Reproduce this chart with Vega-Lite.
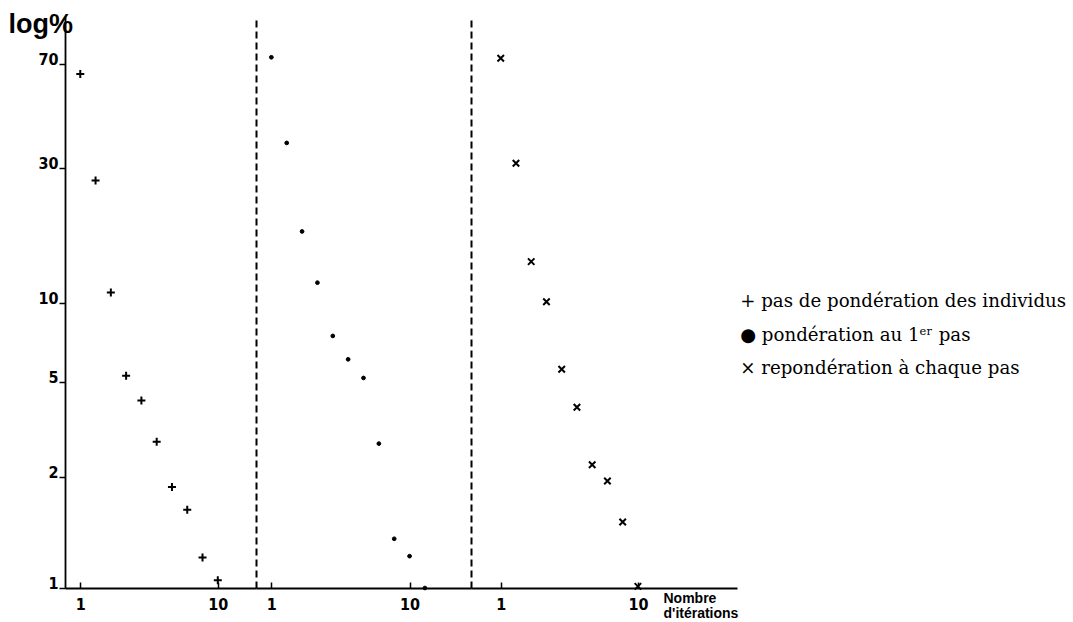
{
  "$schema": "https://vega.github.io/schema/vega-lite/v6.json",
  "padding": {"left": 8, "top": 10, "right": 0, "bottom": 0},
  "background": "white",
  "bounds": "flush",
  "spacing": 0,
  "config": {
    "view": {"stroke": null},
    "axis": {"grid": false, "domainColor": "black", "tickColor": "black", "labelColor": "black", "titleColor": "black"}
  },
  "data": {"values": [
    {"s": "pas de pondération des individus", "it": 1, "pct": 64.5},
    {"s": "pas de pondération des individus", "it": 2, "pct": 27.1},
    {"s": "pas de pondération des individus", "it": 3, "pct": 10.9},
    {"s": "pas de pondération des individus", "it": 4, "pct": 5.28},
    {"s": "pas de pondération des individus", "it": 5, "pct": 4.18},
    {"s": "pas de pondération des individus", "it": 6, "pct": 2.81},
    {"s": "pas de pondération des individus", "it": 7, "pct": 1.88},
    {"s": "pas de pondération des individus", "it": 8, "pct": 1.63},
    {"s": "pas de pondération des individus", "it": 9, "pct": 1.21},
    {"s": "pas de pondération des individus", "it": 10, "pct": 1.05},
    {"s": "pondération au 1ᵉʳ pas", "it": 1, "pct": 73.9},
    {"s": "pondération au 1ᵉʳ pas", "it": 2, "pct": 36.8},
    {"s": "pondération au 1ᵉʳ pas", "it": 3, "pct": 17.9},
    {"s": "pondération au 1ᵉʳ pas", "it": 4, "pct": 11.8},
    {"s": "pondération au 1ᵉʳ pas", "it": 5, "pct": 7.49},
    {"s": "pondération au 1ᵉʳ pas", "it": 6, "pct": 6.1},
    {"s": "pondération au 1ᵉʳ pas", "it": 7, "pct": 5.18},
    {"s": "pondération au 1ᵉʳ pas", "it": 8, "pct": 2.76},
    {"s": "pondération au 1ᵉʳ pas", "it": 9, "pct": 1.36},
    {"s": "pondération au 1ᵉʳ pas", "it": 10, "pct": 1.22},
    {"s": "pondération au 1ᵉʳ pas", "it": 11, "pct": 1.0},
    {"s": "repondération à chaque pas", "it": 1, "pct": 73.3},
    {"s": "repondération à chaque pas", "it": 2, "pct": 31.2},
    {"s": "repondération à chaque pas", "it": 3, "pct": 14.0},
    {"s": "repondération à chaque pas", "it": 4, "pct": 10.1},
    {"s": "repondération à chaque pas", "it": 5, "pct": 5.59},
    {"s": "repondération à chaque pas", "it": 6, "pct": 3.92},
    {"s": "repondération à chaque pas", "it": 7, "pct": 2.25},
    {"s": "repondération à chaque pas", "it": 8, "pct": 1.95},
    {"s": "repondération à chaque pas", "it": 9, "pct": 1.51},
    {"s": "repondération à chaque pas", "it": 10, "pct": 1.01}
  ]},
  "resolve": {"scale": {"shape": "shared"}, "legend": {"shape": "shared"}},
  "hconcat": [
    {
      "width": 191, "height": 572,
      "transform": [{"filter": "datum.s === 'pas de pondération des individus'"}],
      "mark": {"type": "point", "filled": true, "color": "black", "stroke": "black", "strokeWidth": 2, "opacity": 1, "size": 64},
      "encoding": {
        "x": {"field": "it", "type": "quantitative", "scale": {"domain": [0, 12.5], "nice": false, "zero": false},
          "axis": {"values": [1, 10], "title": null, "tickSize": -6, "tickWidth": 1.5, "domainWidth": 2, "labelFont": "Liberation Sans Narrow, DejaVu Sans Condensed, sans-serif", "labelFontSize": 16, "labelFontWeight": "bold", "labelBaseline": "top", "labelPadding": 14, "labelFlush": false}},
        "y": {"field": "pct", "type": "quantitative", "scale": {"type": "log", "domain": [1, 2, 5, 10, 30, 70, 103], "range": [572, 461, 366, 287, 152, 48, 0], "nice": false},
          "axis": {"values": [1, 2, 5, 10, 30, 70], "title": "log%", "titleAngle": 0, "titleAlign": "left", "titleBaseline": "alphabetic", "titleX": -57, "titleY": 16, "titleFont": "Liberation Sans", "titleFontSize": 27, "titleFontWeight": "bold", "labelFont": "Liberation Sans Narrow, DejaVu Sans Condensed, sans-serif", "labelFontSize": 16, "labelFontWeight": "bold", "labelBaseline": "alphabetic", "labelPadding": 1, "tickSize": 6, "tickWidth": 1.5, "domainWidth": 1.8, "labelOverlap": false}},
        "shape": {"field": "s", "type": "nominal",
          "scale": {"domain": ["pas de pondération des individus", "pondération au 1ᵉʳ pas", "repondération à chaque pas"], "range": ["M-1,0L1,0M0,-1L0,1", "circle", "M-1,-1L1,1M-1,1L1,-1"]},
          "legend": {"title": null, "orient": "none", "legendX": 657, "legendY": 277, "symbolSize": 0, "symbolOpacity": 0, "labelFont": "DejaVu Serif", "labelFontSize": 18.2, "labelColor": "black", "labelOffset": 0, "rowPadding": 14.5, "labelLimit": 0,
            "labelExpr": "(datum.label == 'pas de pondération des individus' ? '+' : datum.label == 'repondération à chaque pas' ? '×' : '●') + ' ' + datum.label"}}
      }
    },
    {
      "width": 215, "height": 572,
      "transform": [{"filter": "datum.s === 'pondération au 1ᵉʳ pas'"}],
      "mark": {"type": "point", "filled": true, "color": "black", "stroke": "black", "strokeWidth": 1, "opacity": 1, "size": 14},
      "encoding": {
        "x": {"field": "it", "type": "quantitative", "scale": {"domain": [0, 14], "nice": false, "zero": false},
          "axis": {"values": [1, 10], "title": null, "tickSize": -6, "tickWidth": 1.5, "domainWidth": 2, "labelFont": "Liberation Sans Narrow, DejaVu Sans Condensed, sans-serif", "labelFontSize": 16, "labelFontWeight": "bold", "labelBaseline": "top", "labelPadding": 14, "labelFlush": false}},
        "y": {"field": "pct", "type": "quantitative", "scale": {"type": "log", "domain": [1, 2, 5, 10, 30, 70, 103], "range": [572, 461, 366, 287, 152, 48, 0], "nice": false},
          "axis": {"labels": false, "ticks": false, "title": null, "domainDash": [7, 4], "domainWidth": 2}},
        "shape": {"field": "s", "type": "nominal",
          "scale": {"domain": ["pas de pondération des individus", "pondération au 1ᵉʳ pas", "repondération à chaque pas"], "range": ["M-1,0L1,0M0,-1L0,1", "circle", "M-1,-1L1,1M-1,1L1,-1"]}}
      }
    },
    {
      "width": 266, "height": 572,
      "transform": [{"filter": "datum.s === 'repondération à chaque pas'"}],
      "mark": {"type": "point", "filled": true, "color": "black", "stroke": "black", "strokeWidth": 2, "opacity": 1, "size": 42},
      "encoding": {
        "x": {"field": "it", "type": "quantitative", "scale": {"domain": [-0.95, 16.5], "nice": false, "zero": false},
          "axis": {"values": [1, 10], "title": ["Nombre", "d'itérations"], "titleFont": "Liberation Sans", "titleFontSize": 14, "titleFontWeight": "bold", "titleAlign": "left", "titleBaseline": "top", "titleX": 192, "titleY": 3, "titleLineHeight": 15, "tickSize": -6, "tickWidth": 1.5, "domainWidth": 2, "labelFont": "Liberation Sans Narrow, DejaVu Sans Condensed, sans-serif", "labelFontSize": 16, "labelFontWeight": "bold", "labelBaseline": "top", "labelPadding": 14, "labelFlush": false}},
        "y": {"field": "pct", "type": "quantitative", "scale": {"type": "log", "domain": [1, 2, 5, 10, 30, 70, 103], "range": [572, 461, 366, 287, 152, 48, 0], "nice": false},
          "axis": {"labels": false, "ticks": false, "title": null, "domainDash": [7, 4], "domainWidth": 2}},
        "shape": {"field": "s", "type": "nominal",
          "scale": {"domain": ["pas de pondération des individus", "pondération au 1ᵉʳ pas", "repondération à chaque pas"], "range": ["M-1,0L1,0M0,-1L0,1", "circle", "M-1,-1L1,1M-1,1L1,-1"]}}
      }
    }
  ]
}
